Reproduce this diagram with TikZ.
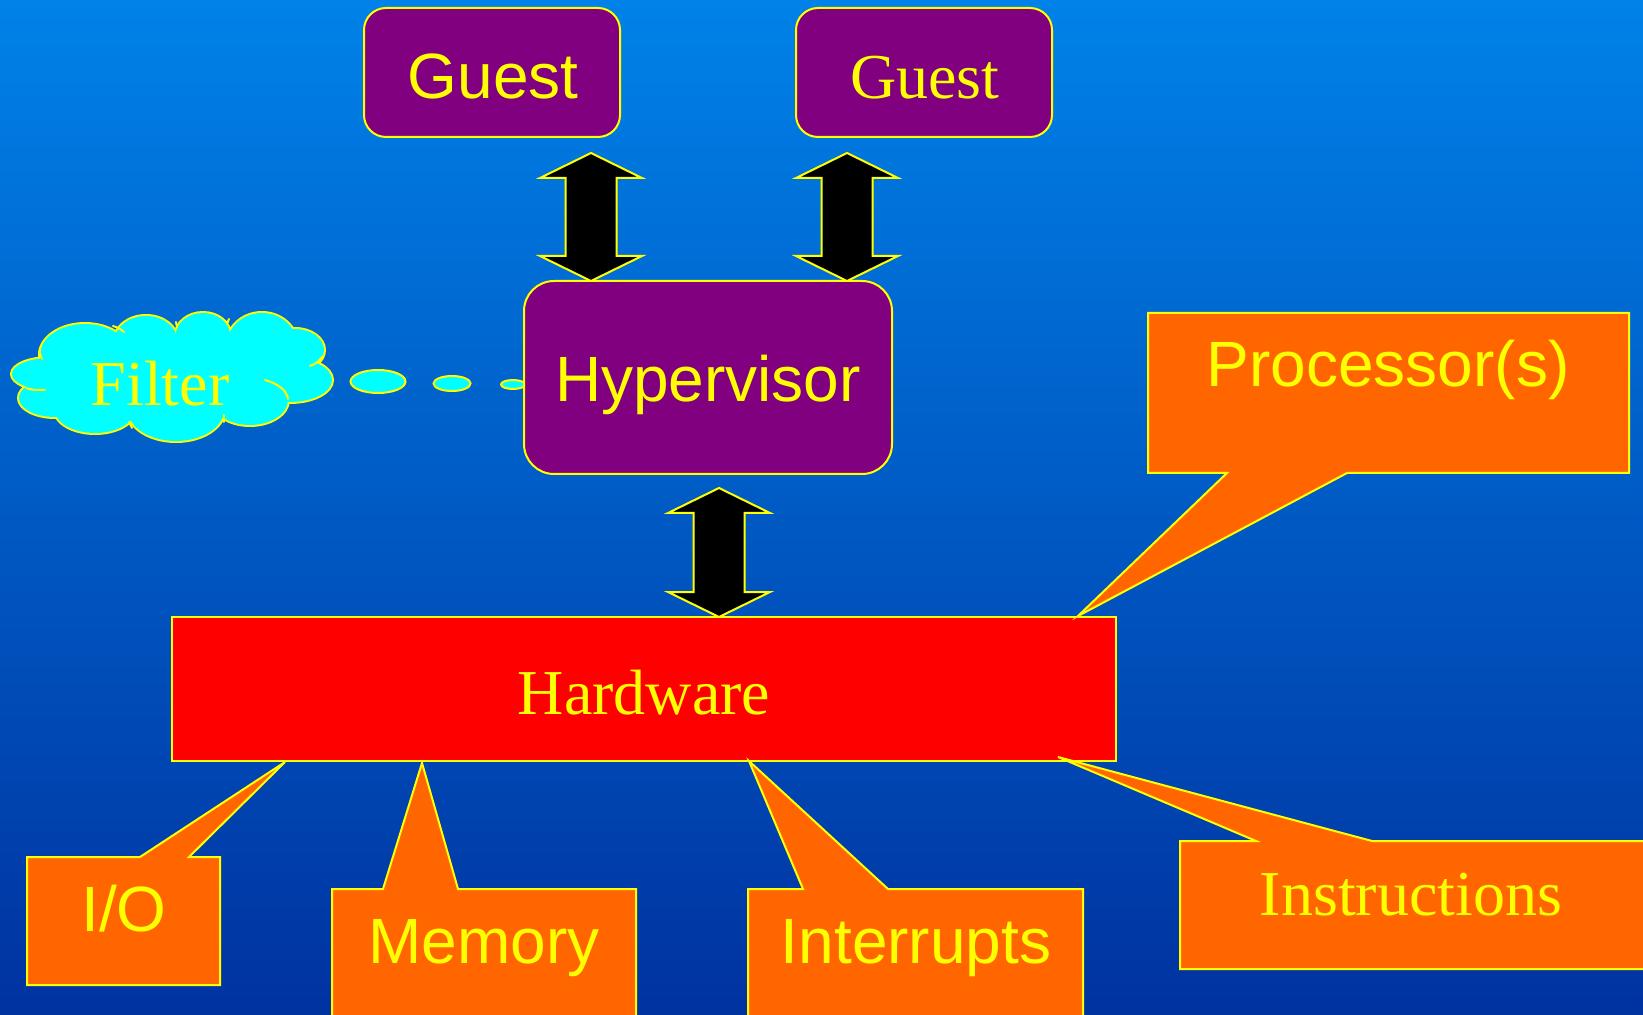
\documentclass[tikz,border=0pt]{standalone}
\usepackage{fontspec}
\setmainfont{Liberation Serif}
\setsansfont{Liberation Sans}
\usetikzlibrary{calc,shapes.geometric}
\definecolor{bgtop}{RGB}{0,130,232}
\definecolor{bgbot}{RGB}{0,50,160}
\definecolor{purp}{RGB}{128,0,128}
\definecolor{orng}{RGB}{255,102,0}
\definecolor{ylw}{RGB}{255,255,0}
\definecolor{cyn}{RGB}{0,255,255}
\definecolor{redd}{RGB}{255,0,0}
\newcommand{\blockarr}[2]{%
  \path[blockarrow] let \p1=(#1), \p2=(#2) in
  (\x1,\y1) -- ++(25.5pt,-12.5pt) -- ++(-12.75pt,0pt)
  -- (\x1+12.75pt,\y2+12.5pt) -- ++(12.75pt,0pt) -- (\x1,\y2)
  -- ++(-25.5pt,12.5pt) -- ++(12.75pt,0pt)
  -- (\x1-12.75pt,\y1-12.5pt) -- ++(-12.75pt,0pt) -- cycle;}
% cloud puffs: centre (px), x radius, y radius (pt)
\newcommand{\puffs}{%
  (85,355) ellipse [x radius=22.5pt,y radius=15.5pt]
  (146,340) ellipse [x radius=15.5pt,y radius=12pt]
  (203,335) ellipse [x radius=13.5pt,y radius=11pt]
  (262,345) ellipse [x radius=17.5pt,y radius=16pt]
  (295,350) ellipse [x radius=14.5pt,y radius=10.5pt]
  (290,380) ellipse [x radius=21pt,y radius=11pt]
  (250,400) ellipse [x radius=19pt,y radius=12.5pt]
  (176,410) ellipse [x radius=24pt,y radius=15.5pt]
  (95,410) ellipse [x radius=20pt,y radius=11.5pt]
  (55,398) ellipse [x radius=18pt,y radius=9.5pt]
  (50,374) ellipse [x radius=19pt,y radius=8pt]}
\begin{document}
\begin{tikzpicture}[x=0.5pt,y=-0.5pt,
  every node/.style={inner sep=0pt,outer sep=0pt},
  sanstxt/.style={text=ylw,font=\sffamily\fontsize{32}{36}\selectfont,anchor=base},
  seriftxt/.style={text=ylw,font=\rmfamily\fontsize{32}{36}\selectfont,anchor=base},
  rbox/.style={draw=ylw,line width=1pt,fill=purp,rectangle},
  callout/.style={draw=ylw,line width=1pt,fill=orng,line join=miter},
  blockarrow/.style={draw=ylw,line width=1pt,fill=black,line join=miter},
  bubble/.style={draw=ylw,line width=1pt,fill=cyn},
  innerarc/.style={draw=ylw,line width=1pt,line cap=round}]
\useasboundingbox (0,0) rectangle (1643,1015);
\clip (0,0) rectangle (1643,1015);
\shade[top color=bgtop,bottom color=bgbot] (0,0) rectangle (1643,1015);

% guests
\node[rbox,rounded corners=11pt,minimum width=128pt,minimum height=64.5pt] (guestA) at (492,72.5) {};
\node[rbox,rounded corners=11pt,minimum width=128pt,minimum height=64.5pt] (guestB) at (924,72.5) {};
\node[sanstxt] (guestAt) at (493,99) {Guest};
\node[seriftxt] (guestBt) at (925,99) {Guest};

% filter cloud
\draw[ylw,line width=2pt] \puffs;
\fill[cyn] \puffs;
\fill[cyn] (172,377) ellipse [x radius=55pt,y radius=20pt];
\path[innerarc] (26,388) .. controls (33,390) .. (45,390);
\path[innerarc] (41,346) .. controls (39,352) .. (42,359);
\path[innerarc] (113,326) .. controls (119,328) .. (124,332);
\path[innerarc] (265,380) .. controls (279,384) and (287,391) .. (288,399);
\path[innerarc] (310,366) .. controls (317,363) .. (323,356);
\path[innerarc] (224,415) -- (224,422);
\path[innerarc] (129,422) -- (132,428);
\path[innerarc] (176,322) -- (177,327);
\path[innerarc] (229,319) -- (227,324);
\coordinate (cloudf) at (172,377);
\node[seriftxt] (filtert) at (160,406) {Filter};
\node[bubble,ellipse,minimum width=27.5pt,minimum height=11.5pt] (bub1) at (378,381.5) {};
\node[bubble,ellipse,minimum width=18.5pt,minimum height=7.5pt] (bub2) at (452,383.5) {};
\node[bubble,ellipse,minimum width=12pt,minimum height=4.5pt] (bub3) at (513,384.5) {};

% hypervisor
\node[rbox,rounded corners=15pt,minimum width=184pt,minimum height=96.5pt] (hyp) at (708,377.5) {};
\node[sanstxt] (hypt) at (708,402) {Hypervisor};

% hardware
\node[draw=ylw,line width=1pt,fill=redd,minimum width=472pt,minimum height=72pt] (hw) at (644,689) {};
\node[seriftxt] (hwt) at (644,714) {Hardware};

% block arrows
\coordinate (a1t) at ($(guestA.south east)+(-29,16)$);
\coordinate (a2t) at ($(guestB.south west)+(51,16)$);
\coordinate (a3t) at ($(hyp.south)+(11,14)$);
\blockarr{a1t}{hyp.north -| a1t}
\blockarr{a2t}{hyp.north -| a2t}
\blockarr{a3t}{hw.north -| a3t}

% callout frames
\node[minimum width=240.5pt,minimum height=80pt] (proc) at (1388.5,393) {};
\node[minimum width=96.5pt,minimum height=64pt] (io) at (123.5,921) {};
\node[minimum width=152pt,minimum height=76pt] (mem) at (484,965) {};
\node[minimum width=167.5pt,minimum height=76pt] (intr) at (915.5,965) {};
\node[minimum width=240pt,minimum height=64pt] (instr) at (1420,905) {};

\coordinate (tproc) at ($(hw.north east)+(-38,-1)$);
\coordinate (tio) at ($(hw.south west)+(113,1)$);
\coordinate (tmem) at ($(hw.south west)+(250,2)$);
\coordinate (tintr) at ($(hw.south west)+(577,0)$);
\coordinate (tinstr) at ($(hw.south east)+(-58,-4)$);

\path[callout] (proc.north west) -- (proc.north east) -- (proc.south east)
  -- ($(proc.south west)+(199,0)$) -- (tproc) -- ($(proc.south west)+(79,0)$)
  -- (proc.south west) -- cycle;
\path[callout] (io.north west) -- ($(io.north west)+(113,0)$) -- (tio)
  -- ($(io.north west)+(162,0)$) -- (io.north east) -- (io.south east)
  -- (io.south west) -- cycle;
\path[callout] (mem.north west) -- ($(mem.north west)+(51,0)$) -- (tmem)
  -- ($(mem.north west)+(126,0)$) -- (mem.north east) -- (mem.south east)
  -- (mem.south west) -- cycle;
\path[callout] (intr.north west) -- ($(intr.north west)+(55,0)$) -- (tintr)
  -- ($(intr.north west)+(140,0)$) -- (intr.north east) -- (intr.south east)
  -- (intr.south west) -- cycle;
\path[callout] (instr.north west) -- ($(instr.north west)+(76,0)$) -- (tinstr)
  -- ($(instr.north west)+(192,0)$) -- (instr.north east) -- (instr.south east)
  -- (instr.south west) -- cycle;

\node[sanstxt] (proct) at (1388,387) {Processor(s)};
\node[sanstxt] (iot) at (124,931) {I/O};
\node[sanstxt] (memt) at (484,963) {Memory};
\node[sanstxt] (intrt) at (916,963) {Interrupts};
\node[seriftxt] (instrt) at (1411,915) {Instructions};
\end{tikzpicture}
\end{document}
